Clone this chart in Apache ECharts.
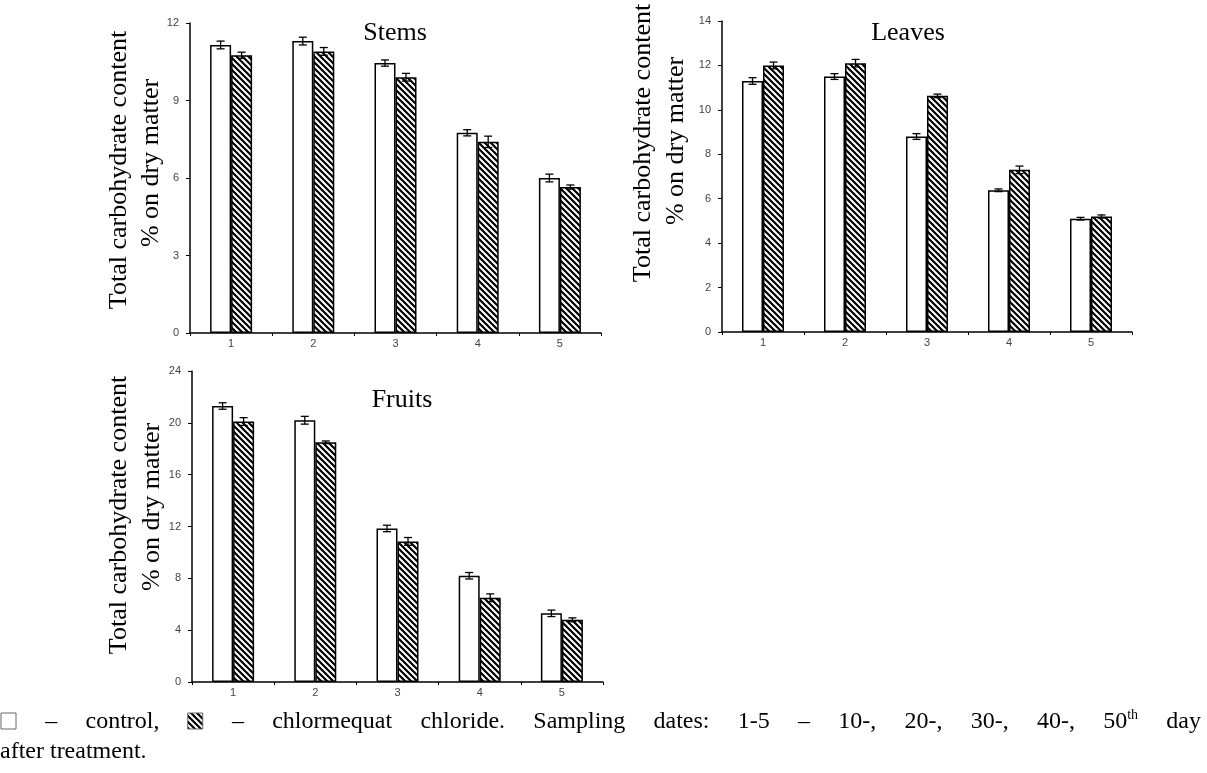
<!DOCTYPE html>
<html><head><meta charset="utf-8">
<script src="https://cdn.jsdelivr.net/npm/echarts@6/dist/echarts.min.js"></script>
<style>html,body{margin:0;padding:0;background:#fff}#c{width:1207px;height:773px}</style>
</head><body><div id="c"></div>
<script>
// ---- data ----
const categories = ['1', '2', '3', '4', '5'];
const stemsControl = [11.15, 11.3, 10.45, 7.75, 6.0];
const stemsChlor = [10.75, 10.9, 9.9, 7.4, 5.65];
const stemsControlErr = [0.15, 0.15, 0.12, 0.12, 0.15];
const stemsChlorErr = [0.12, 0.15, 0.15, 0.22, 0.08];
const leavesControl = [11.3, 11.5, 8.8, 6.38, 5.1];
const leavesChlor = [12.0, 12.1, 10.63, 7.3, 5.2];
const leavesControlErr = [0.15, 0.13, 0.13, 0.06, 0.06];
const leavesChlorErr = [0.15, 0.17, 0.08, 0.17, 0.07];
const fruitsControl = [21.3, 20.2, 11.85, 8.2, 5.3];
const fruitsChlor = [20.1, 18.5, 10.85, 6.5, 4.8];
const fruitsControlErr = [0.25, 0.3, 0.25, 0.25, 0.25];
const fruitsChlorErr = [0.3, 0.1, 0.3, 0.3, 0.15];
const yMax = [12, 14, 24];
const yInterval = [3, 2, 4];
const panelTitles = ['Stems', 'Leaves', 'Fruits'];
const yNameLine1 = 'Total carbohydrate content';
const yNameLine2 = '% on dry matter';
const captionLine1 = ['[box]', '–', 'control,', '[hatch]', '–', 'chlormequat', 'chloride.', 'Sampling', 'dates:', '1-5', '–', '10-,', '20-,', '30-,', '40-,', '50[th]', 'day'];
const captionLine2 = 'after treatment.';

// ---- style ----
const BAR_W = 21;
const SERIF = "'Liberation Serif', 'Times New Roman', serif";

function hatchCanvas() {
  const s = 6;
  const c = document.createElement('canvas');
  c.width = s; c.height = s;
  const g = c.getContext('2d');
  g.fillStyle = '#fff'; g.fillRect(0, 0, s, s);
  g.strokeStyle = '#000'; g.lineWidth = 2.2;
  g.beginPath();
  g.moveTo(-2, -2); g.lineTo(s + 2, s + 2);
  g.moveTo(-2, s - 2); g.lineTo(2, s + 2);
  g.moveTo(s - 2, -2); g.lineTo(s + 2, 2);
  g.stroke();
  return c;
}
const hatch = hatchCanvas();
const hatchFill = { image: hatch, repeat: 'repeat' };

const grids = [
  { left: 190, top: 23, width: 411, height: 310 },
  { left: 722, top: 21, width: 410, height: 311 },
  { left: 192, top: 371, width: 411, height: 311 }
];

const xAxes = grids.map((g, i) => ({
  type: 'category', gridIndex: i, data: categories,
  axisLine: { lineStyle: { color: '#000', width: 1.5 } },
  axisTick: { show: true, length: 3, lineStyle: { color: '#000' } },
  axisLabel: { color: '#444', fontSize: 11, fontFamily: 'Arial, Liberation Sans', margin: 5 },
  splitLine: { show: false }
}));
const yAxes = grids.map((g, i) => ({
  type: 'value', gridIndex: i, min: 0, max: yMax[i], interval: yInterval[i],
  axisLine: { show: true, lineStyle: { color: '#000', width: 1.5 } },
  axisTick: { show: true, length: 4, lineStyle: { color: '#000' } },
  axisLabel: { color: '#444', fontSize: 11, fontFamily: 'Arial, Liberation Sans', margin: 11 },
  splitLine: { show: false }
}));

function barSeries(idx, vals, hatched) {
  return {
    type: 'bar', xAxisIndex: idx, yAxisIndex: idx, data: vals,
    barWidth: BAR_W, barGap: '0%', silent: true,
    itemStyle: { color: hatched ? hatchFill : '#fff', borderColor: '#000', borderWidth: 1.5 }
  };
}
function errSeries(idx, vals, errs, side) {
  return {
    type: 'custom', xAxisIndex: idx, yAxisIndex: idx, z: 10, silent: true,
    data: vals.map((v, i) => [i, v - errs[i], v + errs[i]]),
    renderItem(params, api) {
      const x = api.value(0);
      const lo = api.coord([x, api.value(1)]);
      const hi = api.coord([x, api.value(2)]);
      const cx = lo[0] + side * BAR_W / 2;
      const hw = 4;
      const st = { stroke: '#000', lineWidth: 1.3 };
      return { type: 'group', children: [
        { type: 'line', shape: { x1: cx, y1: lo[1], x2: cx, y2: hi[1] }, style: st },
        { type: 'line', shape: { x1: cx - hw, y1: lo[1], x2: cx + hw, y2: lo[1] }, style: st },
        { type: 'line', shape: { x1: cx - hw, y1: hi[1], x2: cx + hw, y2: hi[1] }, style: st }
      ] };
    }
  };
}

const series = [
  barSeries(0, stemsControl, false), barSeries(0, stemsChlor, true),
  errSeries(0, stemsControl, stemsControlErr, -1), errSeries(0, stemsChlor, stemsChlorErr, 1),
  barSeries(1, leavesControl, false), barSeries(1, leavesChlor, true),
  errSeries(1, leavesControl, leavesControlErr, -1), errSeries(1, leavesChlor, leavesChlorErr, 1),
  barSeries(2, fruitsControl, false), barSeries(2, fruitsChlor, true),
  errSeries(2, fruitsControl, fruitsControlErr, -1), errSeries(2, fruitsChlor, fruitsChlorErr, 1)
];

// ---- text graphics ----
const graphics = [];
function txt(text, x, y, size, rot) {
  graphics.push({ type: 'text', x: x, y: y, rotation: rot || 0, silent: true,
    style: { text: text, fill: '#000', font: size + 'px ' + SERIF,
      textAlign: 'center', textVerticalAlign: 'middle', align: 'center', verticalAlign: 'middle' } });
}
const titlePos = [[395, 33], [908, 33], [402, 400]];
panelTitles.forEach((t, i) => txt(t, titlePos[i][0], titlePos[i][1], 26));
const yNamePos = [[119, 170, 151, 163], [643, 143, 676, 141], [119, 515, 152, 507]];
yNamePos.forEach(p => { txt(yNameLine1, p[0], p[1], 26, Math.PI / 2); txt(yNameLine2, p[2], p[3], 26, Math.PI / 2); });

// caption (justified first line)
const CAP_SIZE = 24, SUP_SIZE = 14, BOX = 16, LINE1_Y = 722, LINE2_Y = 752, CAP_W = 1200;
const mctx = document.createElement('canvas').getContext('2d');
function tw(t, s) { mctx.font = s + 'px ' + SERIF; return mctx.measureText(t).width; }
const widths = captionLine1.map(w => {
  if (w === '[box]' || w === '[hatch]') return BOX;
  if (w.indexOf('[th]') >= 0) return tw(w.replace('[th]', ''), CAP_SIZE) + tw('th', SUP_SIZE);
  return tw(w, CAP_SIZE);
});
const gap = (CAP_W - widths.reduce((a, b) => a + b, 0)) / (captionLine1.length - 1);
let cx = 1;
captionLine1.forEach((w, i) => {
  if (w === '[box]' || w === '[hatch]') {
    graphics.push({ type: 'rect', silent: true, shape: { x: cx, y: LINE1_Y - 9, width: BOX - 1, height: BOX },
      style: { fill: w === '[box]' ? '#fff' : hatchFill, stroke: '#666', lineWidth: 1 } });
  } else if (w.indexOf('[th]') >= 0) {
    const base = w.replace('[th]', '');
    graphics.push({ type: 'text', x: cx, y: LINE1_Y, silent: true,
      style: { text: base, fill: '#000', font: CAP_SIZE + 'px ' + SERIF, textAlign: 'left', align: 'left', textVerticalAlign: 'middle', verticalAlign: 'middle' } });
    graphics.push({ type: 'text', x: cx + tw(base, CAP_SIZE), y: LINE1_Y - 7, silent: true,
      style: { text: 'th', fill: '#000', font: SUP_SIZE + 'px ' + SERIF, textAlign: 'left', align: 'left', textVerticalAlign: 'middle', verticalAlign: 'middle' } });
  } else {
    graphics.push({ type: 'text', x: cx, y: LINE1_Y, silent: true,
      style: { text: w, fill: '#000', font: CAP_SIZE + 'px ' + SERIF, textAlign: 'left', align: 'left', textVerticalAlign: 'middle', verticalAlign: 'middle' } });
  }
  cx += widths[i] + gap;
});
graphics.push({ type: 'text', x: 0, y: LINE2_Y, silent: true,
  style: { text: captionLine2, fill: '#000', font: CAP_SIZE + 'px ' + SERIF, textAlign: 'left', align: 'left', textVerticalAlign: 'middle', verticalAlign: 'middle' } });

const chart = echarts.init(document.getElementById('c'), null, { renderer: 'canvas' });
chart.setOption({
  animation: false,
  backgroundColor: '#fff',
  grid: grids,
  xAxis: xAxes,
  yAxis: yAxes,
  series: series,
  graphic: graphics
});
</script>
</body></html>
